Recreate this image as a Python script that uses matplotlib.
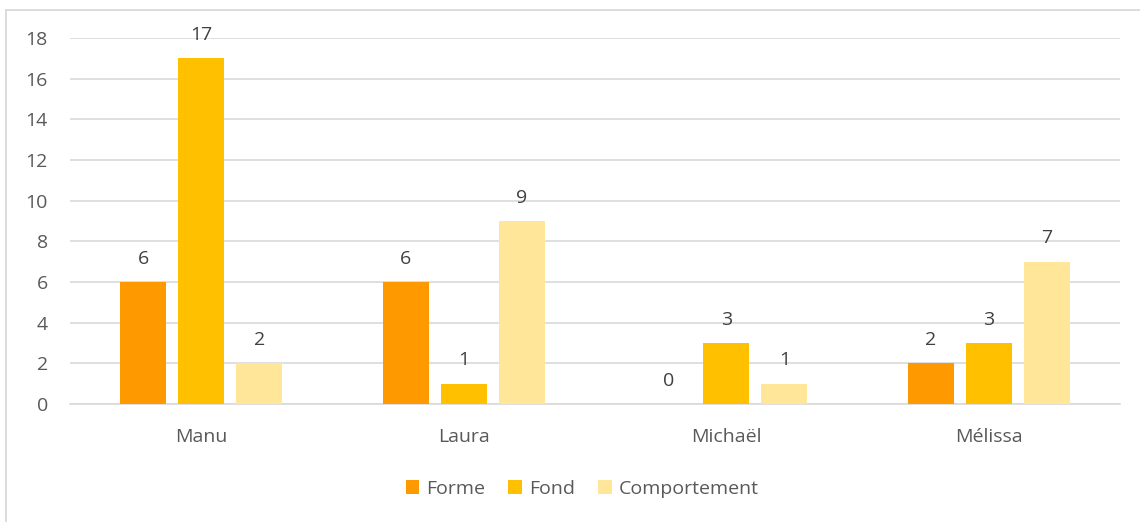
import numpy as np
import matplotlib.pyplot as plt
from matplotlib.lines import Line2D

# ---- data ----
names = ["Manu", "Laura", "Michaël", "Mélissa"]
series = ["Forme", "Fond", "Comportement"]
forme = [6, 6, 0, 2]
fond = [17, 1, 3, 3]
comportement = [2, 9, 1, 7]
colors = ["#FF9900", "#FFC000", "#FFE699"]

plt.rcParams['font.family'] = ['Open Sans', 'DejaVu Sans']
txt = "#595959"
fs = 14

fig = plt.figure(figsize=(11.4, 5.22), dpi=100)
ax = fig.add_axes([70 / 1140, 1 - 404 / 522, 1050 / 1140, 366 / 522])

# chart border (only top and left edges fall inside the picture)
bx, by = 5.5 / 1140, 1 - 9.5 / 522
fig.lines.append(Line2D([bx, 1.0], [by, by], transform=fig.transFigure,
                        color="#D9D9D9", linewidth=1.3))
fig.lines.append(Line2D([bx, bx], [0.0, by], transform=fig.transFigure,
                        color="#D9D9D9", linewidth=1.3))

x = np.arange(len(names))
width = 0.175
step = 0.221
for i, (vals, lab, c) in enumerate(zip([forme, fond, comportement], series, colors)):
    pos = x + (i - 1) * step
    ax.bar(pos, vals, width, color=c, label=lab, zorder=3)
    for p, v in zip(pos, vals):
        ax.text(p, v + 0.7, str(v), ha="center", va="bottom",
                fontsize=fs, color="#404040")

ax.set_xlim(-0.5, 3.5)
ax.set_ylim(0, 18)
ax.set_yticks(range(0, 19, 2))
ax.set_xticks(x)
ax.set_xticklabels(names)
ax.yaxis.grid(True, color="#D9D9D9", linewidth=1.2, zorder=0)
ax.set_axisbelow(True)
for s in ["top", "right", "left"]:
    ax.spines[s].set_visible(False)
ax.spines["bottom"].set_color("#D9D9D9")
ax.spines["bottom"].set_linewidth(1.2)
ax.tick_params(axis="both", length=0, labelsize=fs, labelcolor=txt)
ax.tick_params(axis="y", pad=16)
ax.tick_params(axis="x", pad=17)

leg = fig.legend(loc="center", bbox_to_anchor=(582 / 1140, 1 - 489 / 522),
                 ncol=3, frameon=False, fontsize=fs, handlelength=0.7,
                 handleheight=0.7, handletextpad=0.35, columnspacing=1.2)
for t in leg.get_texts():
    t.set_color(txt)

fig.savefig("out.png", dpi=100)
